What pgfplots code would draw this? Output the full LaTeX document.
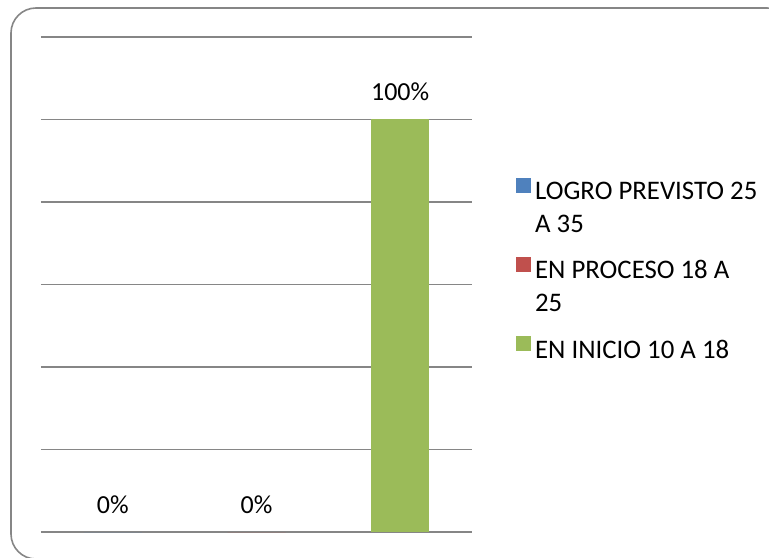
\documentclass[border=0pt]{standalone}
\usepackage{pgfplots}
\pgfplotsset{compat=1.18}
\usepackage{fontspec}
\setmainfont{Carlito}
\definecolor{sblue}{HTML}{4F81BD}
\definecolor{sred}{HTML}{C0504D}
\definecolor{sgreen}{HTML}{9BBB59}
\definecolor{gridgray}{HTML}{868686}
\begin{document}
\begin{tikzpicture}[font=\fontsize{13}{16.5}\selectfont]
\useasboundingbox (0,0) rectangle (384.5pt,278.5pt);
\begin{scope}
\clip (0,0) rectangle (384.5pt,278.5pt);
\draw[gridgray, line width=0.8pt, rounded corners=12.5pt] (5.5pt,-1pt) rectangle (396pt,274.5pt);
\end{scope}
\begin{axis}[
  at={(20.5pt,12.5pt)}, anchor=south west,
  scale only axis,
  width=215.5pt, height=247.5pt,
  xmin=-0.5, xmax=2.5, ymin=0, ymax=120,
  xtick=\empty,
  ytick={0,20,40,60,80,100,120},
  yticklabels={},
  major tick length=0pt,
  ymajorgrids,
  grid style={gridgray, line width=0.8pt},
  axis line style={draw=none},
  clip=false,
  ybar, bar width=29pt, bar shift=0pt,
  point meta=explicit symbolic,
  nodes near coords,
  every node near coord/.append style={anchor=south, inner sep=0pt, yshift=9pt, font=\fontsize{13}{16.5}\selectfont, text=black},
  legend style={draw=none, fill=none, at={(1.088,0.724)}, anchor=north west,
    nodes={align=left, inner xsep=1.9pt, inner ysep=2pt}, row sep=8.5pt,
    font=\fontsize{13.4}{16.5}\selectfont},
  legend cell align=left,
]
\addplot[draw=none, fill=sblue, legend image code/.code={\fill[sblue] (0pt,7.75pt) rectangle (7.5pt,15.25pt);}] coordinates {(0,0) [0\%]};
\addplot[draw=none, fill=sred, legend image code/.code={\fill[sred] (0pt,7.75pt) rectangle (7.5pt,15.25pt);}] coordinates {(1,0) [0\%]};
\addplot[draw=none, fill=sgreen, legend image code/.code={\fill[sgreen] (0pt,-0.5pt) rectangle (7.5pt,7pt);}] coordinates {(2,100) [100\%]};
\legend{LOGRO PREVISTO 25\\A 35, EN PROCESO 18 A\\25, EN INICIO 10 A 18}
\end{axis}
\end{tikzpicture}
\end{document}
